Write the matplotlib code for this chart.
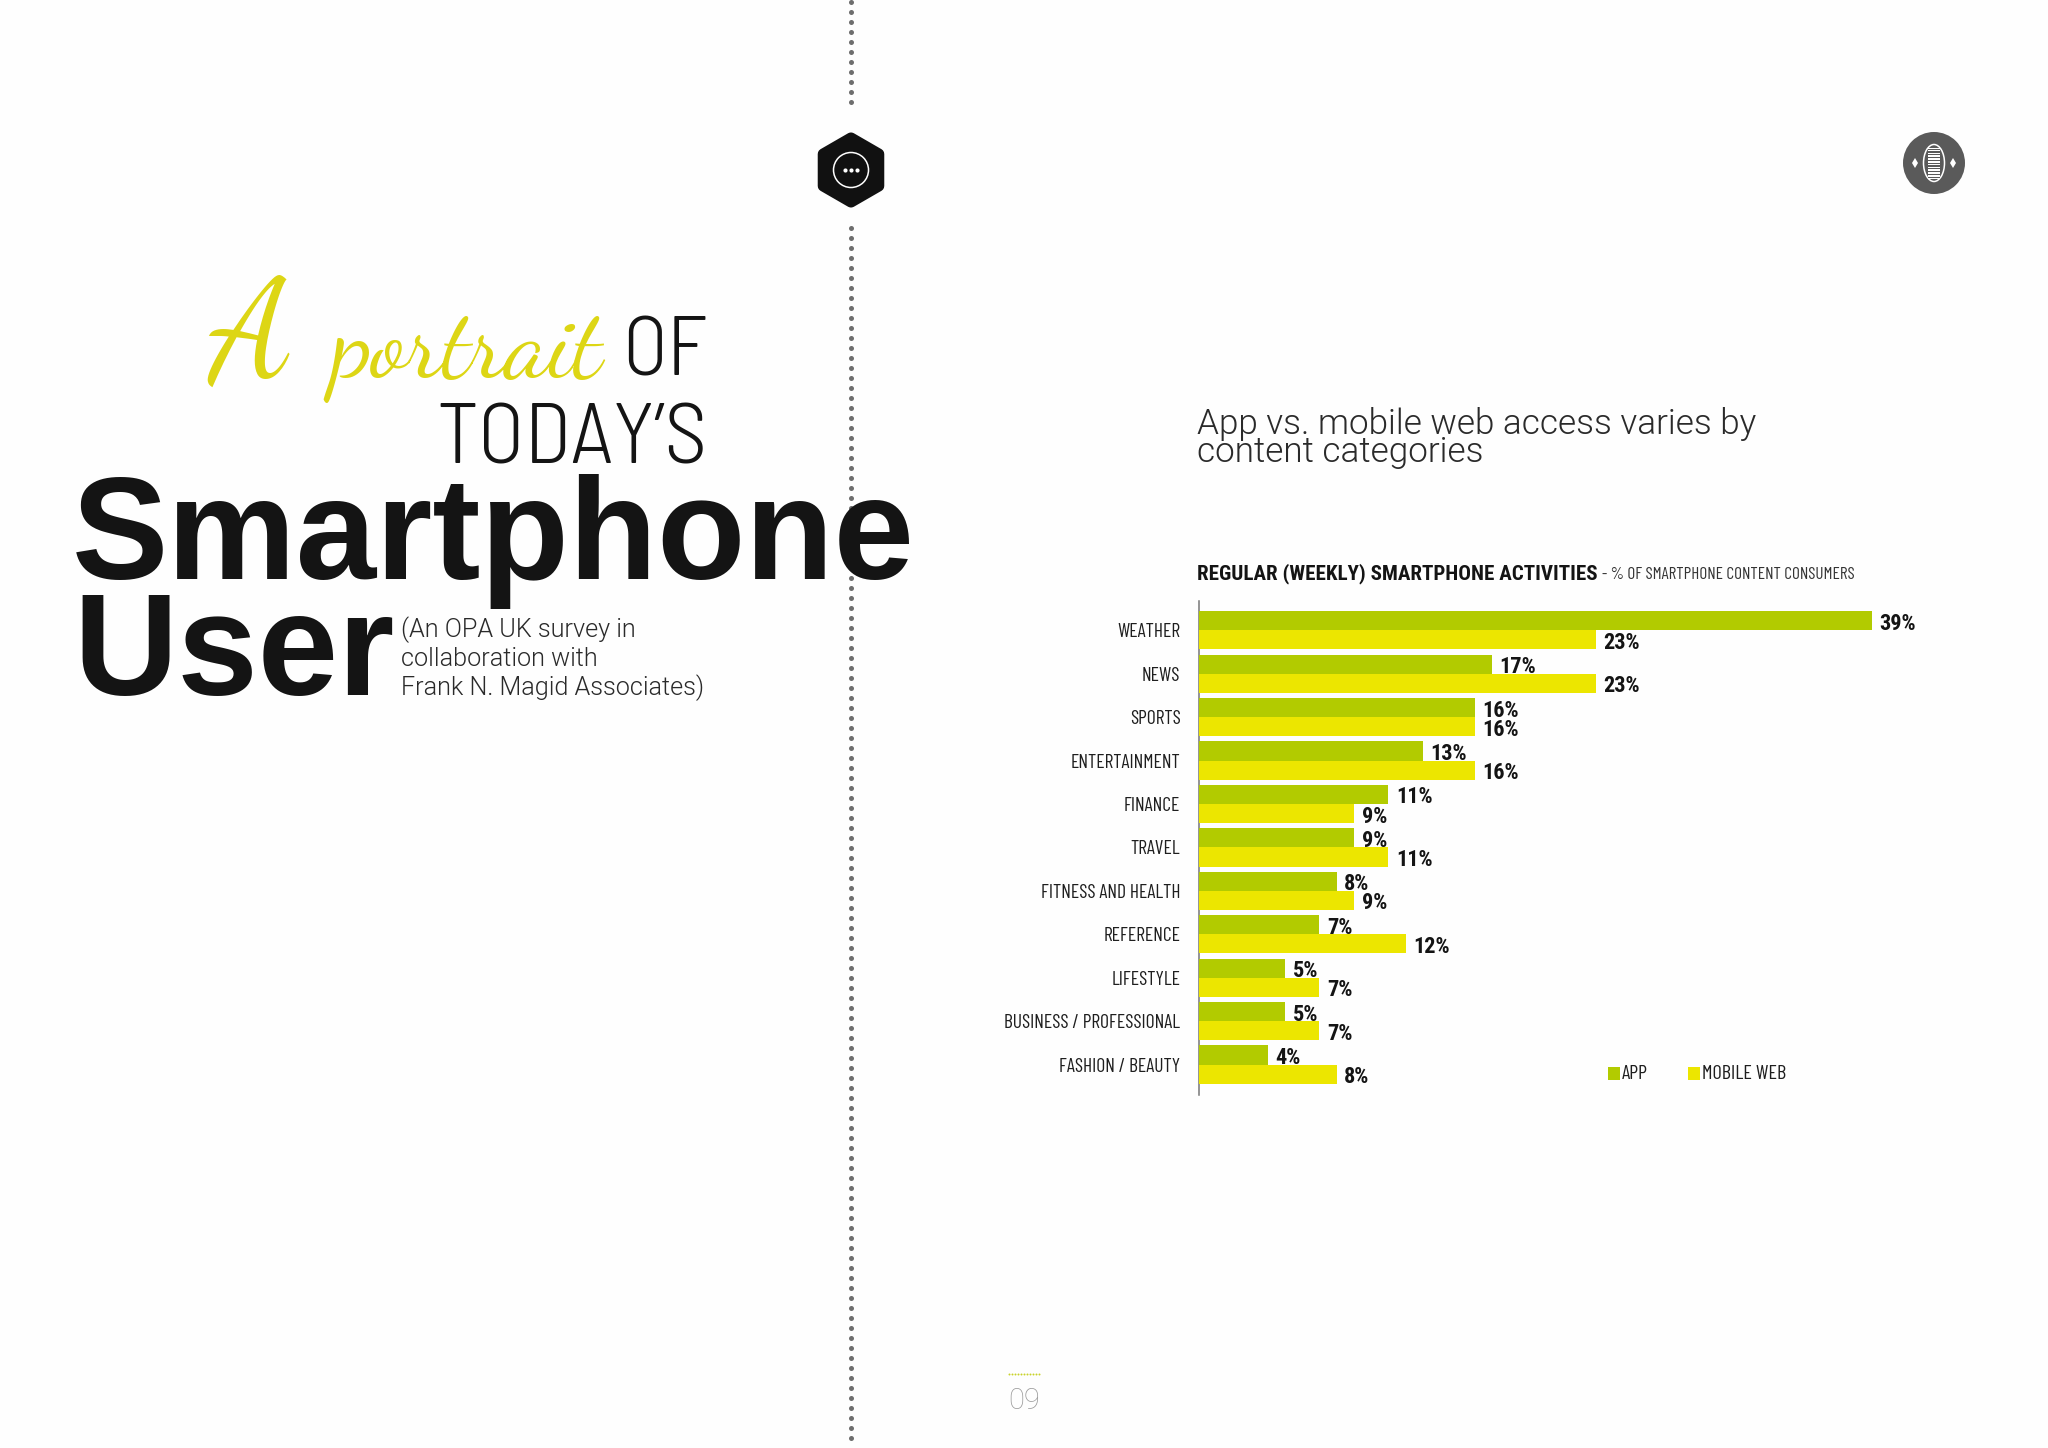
import matplotlib
matplotlib.use("Agg")
import matplotlib.pyplot as plt
from matplotlib.patches import RegularPolygon, Circle, Ellipse, Rectangle, Polygon

categories = ["WEATHER", "NEWS", "SPORTS", "ENTERTAINMENT", "FINANCE", "TRAVEL",
              "FITNESS AND HEALTH", "REFERENCE", "LIFESTYLE",
              "BUSINESS / PROFESSIONAL", "FASHION / BEAUTY"]
app_values = [39, 17, 16, 13, 11, 9, 8, 7, 5, 5, 4]
web_values = [23, 23, 16, 16, 9, 11, 9, 12, 7, 7, 8]

APP = "#B2CB00"
WEB = "#ECE600"
INK = "#141414"
COND = ["Roboto Condensed", "Liberation Sans", "DejaVu Sans"]
NARROW = ["Barlow Condensed", "Roboto Condensed", "Liberation Sans", "DejaVu Sans"]
SEMI = ["Barlow Semi Condensed", "Roboto Condensed", "Liberation Sans", "DejaVu Sans"]
SANS = ["Liberation Sans", "DejaVu Sans"]
LIGHT = ["Roboto", "Liberation Sans", "DejaVu Sans"]
SCRIPT = ["Dancing Script", "Pinyon Script", "Liberation Serif", "DejaVu Serif"]

W, H = 2048, 1448
fig = plt.figure(figsize=(W / 100, H / 100), dpi=100, facecolor="#FEFEFE")

# page canvas in pixel coordinates, for decoration and page text
page = fig.add_axes([0, 0, 1, 1], zorder=0)
page.set_xlim(0, W)
page.set_ylim(H, 0)
page.axis("off")


def T(x, y, s, size, family=SANS, color=INK, ha="left", **kw):
    return page.text(x, y, s, fontsize=size, family=family, color=color, ha=ha,
                     va="baseline", zorder=5, **kw)


# dotted divider
for rng in (range(2, 112, 10), range(228, 1448, 10)):
    ys = list(rng)
    page.scatter([850.5] * len(ys), ys, s=13, color="#6E6E6E", linewidths=0, zorder=1)

# hexagon badge
page.add_patch(RegularPolygon((851, 170), 6, radius=32, facecolor="#111111", edgecolor="#111111",
                              linewidth=8, joinstyle="round", zorder=2))
page.add_patch(Circle((851, 170), 17.5, facecolor="none", edgecolor="white", linewidth=1.1, zorder=3))
page.scatter([845, 851, 857], [170] * 3, s=9, color="white", linewidths=0, zorder=3)

# phone badge
page.add_patch(Circle((1934, 163), 31, facecolor="#5A5A5A", edgecolor="none", zorder=2))
page.add_patch(Ellipse((1934, 163), 21, 37, facecolor="none", edgecolor="white", linewidth=1.1, zorder=3))
page.add_patch(Rectangle((1928, 147.5), 12, 31, facecolor="white", edgecolor="none", zorder=3))
for i in range(11):
    page.add_patch(Rectangle((1928, 148.5 + i * 2.8), 12, 1.3, facecolor="#5A5A5A", edgecolor="none", zorder=4))
for cx in (1915, 1953):
    page.add_patch(Polygon([(cx, 158), (cx + 3, 163), (cx, 168), (cx - 3, 163)], facecolor="white",
                           edgecolor="none", zorder=3))

# left-hand title
T(209, 375, "A", 100, family=SCRIPT, color="#DDD615")
T(332, 375, "portrait", 72, family=SCRIPT, color="#DDD615")
T(707, 375, "OF", 60, family=SEMI, weight=300, ha="right")
T(707, 464, "TODAY\u2019S", 62, family=SEMI, ha="right", weight=300)
T(71.5, 579, "Smartphone", 104, weight="bold")
T(73, 695, "User", 104, weight="bold")
for y, s in zip((637, 666, 695), ("(An OPA UK survey in", "collaboration with", "Frank N. Magid Associates)")):
    T(401, y, s, 18.2, family=LIGHT, color="#2A2A2A", weight=300)

# right-hand heading
T(1197, 434, "App vs. mobile web access varies by", 25.3, family=LIGHT, color="#2A2A2A", weight=300)
T(1197, 462, "content categories", 25.3, family=LIGHT, color="#2A2A2A", weight=300)
T(1197, 579, "REGULAR (WEEKLY) SMARTPHONE ACTIVITIES", 15.1, family=COND, weight="bold")
T(1602, 579, "- % OF SMARTPHONE CONTENT CONSUMERS", 12.3, family=NARROW, color="#333333")

# page number
xs = list(range(1009, 1041, 3))
page.scatter(xs, [1374] * len(xs), s=2, color="#C9D22A", linewidths=0)
T(1008, 1409, "09", 21, family=LIGHT, color="#9A9A9A", weight=100)

# chart
AX_L, AX_R, AX_T, AX_B = 1198.5, 1975.5, 600.6, 1094.5
ax = fig.add_axes([AX_L / W, 1 - AX_B / H, (AX_R - AX_L) / W, (AX_B - AX_T) / H], zorder=2)
ax.patch.set_alpha(0)
ax.set_xlim(0, 45)
ax.set_ylim(10.69, -0.684)
bar_h = 0.44
rows = list(range(len(categories)))
app_y = [r - bar_h / 2 for r in rows]
web_y = [r + bar_h / 2 for r in rows]
ax.barh(app_y, app_values, height=bar_h, color=APP, zorder=3)
ax.barh(web_y, web_values, height=bar_h, color=WEB, zorder=3)
for ys, vals in ((app_y, app_values), (web_y, web_values)):
    for y, v in zip(ys, vals):
        ax.annotate(f"{v}%", (v, y), xytext=(5.5, -2.2), textcoords="offset points",
                    ha="left", va="center", fontsize=16, family=COND, weight="bold",
                    color=INK, zorder=2)
ax.set_yticks(rows, categories)
ax.tick_params(axis="y", length=0, pad=13)
for lab in ax.get_yticklabels():
    lab.set_family(NARROW)
    lab.set_fontsize(14.1)
    lab.set_weight(400)
    lab.set_color("#1E1E1E")
ax.xaxis.set_visible(False)
for k in ("top", "right", "bottom"):
    ax.spines[k].set_visible(False)
ax.spines["left"].set_color("#777777")
ax.spines["left"].set_linewidth(1.1)

# legend
page.add_patch(Rectangle((1608, 1067), 12, 13, facecolor=APP, edgecolor="none", zorder=3))
page.add_patch(Rectangle((1688, 1067), 12, 13, facecolor=WEB, edgecolor="none", zorder=3))
T(1621.5, 1079, "APP", 14.5, family=NARROW, color="#1E1E1E")
T(1702, 1079, "MOBILE WEB", 14.5, family=NARROW, color="#1E1E1E")

fig.savefig("out.png", dpi=100, facecolor=fig.get_facecolor())
